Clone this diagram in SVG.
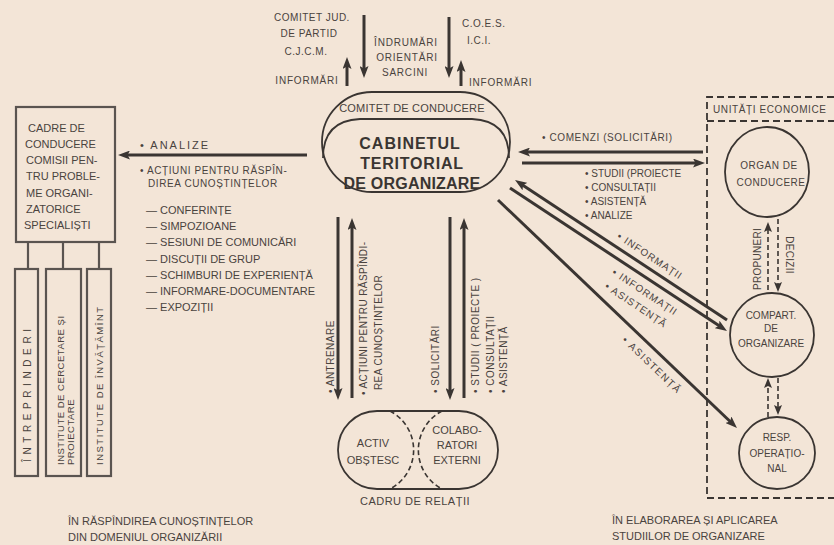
<svg xmlns="http://www.w3.org/2000/svg" width="834" height="545" viewBox="0 0 834 545">
<defs>
<marker id="ah" viewBox="0 0 12 9" refX="4" refY="4.5" markerWidth="12" markerHeight="9" markerUnits="userSpaceOnUse" orient="auto">
<path d="M0,0 L12,4.5 L0,9 L2.5,4.5 z" fill="#3a3532"/>
</marker>
<marker id="ah2" viewBox="0 0 10 8" refX="3" refY="4" markerWidth="10" markerHeight="8" markerUnits="userSpaceOnUse" orient="auto">
<path d="M0,0 L10,4 L0,8 L2,4 z" fill="#3a3532"/>
</marker>
</defs>
<style>
.t{font-family:"Liberation Sans",Arial,sans-serif;fill:#4a433e;font-size:11px}
.s{font-size:10px}
.m{text-anchor:middle}
.b{font-weight:bold;font-size:16px;fill:#3a3532}
.ln{stroke:#3a3532;stroke-width:3;fill:none}
.ol{stroke:#3a3532;stroke-width:1.8;fill:none}
.bx{stroke:#5a5450;stroke-width:2.2;fill:none}
.da{stroke:#3a3532;stroke-width:1.8;fill:none;stroke-dasharray:7 4}
.da2{stroke:#3a3532;stroke-width:1.6;fill:none;stroke-dasharray:5 3}
</style>
<rect width="834" height="545" fill="#f3e5d7"/>

<g id="top-labels">
<text class="t s m" x="312" y="21" letter-spacing="0.5">COMITET JUD.</text>
<text class="t s m" x="309" y="37" letter-spacing="0.5">DE PARTID</text>
<text class="t s m" x="306" y="55" letter-spacing="0.5">C.J.C.M.</text>
<text class="t s m" x="307" y="84" letter-spacing="0.8">INFORMĂRI</text>
<text class="t s m" x="406" y="46" letter-spacing="0.8">ÎNDRUMĂRI</text>
<text class="t s m" x="407" y="61" letter-spacing="0.8">ORIENTĂRI</text>
<text class="t s m" x="405" y="76" letter-spacing="0.8">SARCINI</text>
<text class="t s" x="462" y="27" letter-spacing="0.5">C.O.E.S.</text>
<text class="t s" x="467" y="44" letter-spacing="0.5">I.C.I.</text>
<text class="t s" x="469" y="86" letter-spacing="0.8">INFORMĂRI</text>
</g>

<g id="cabinet">
<rect x="322" y="92" width="188" height="100" rx="50" ry="50" class="ol"/>
<path d="M323,158 C323,132 336,120 360,119 L472,119 C496,120 509,132 509,158" class="ol"/>
<text class="t m" x="412" y="112" letter-spacing="0.2">COMITET DE CONDUCERE</text>
<text class="t b m" x="410" y="149" letter-spacing="1">CABINETUL</text>
<text class="t b m" x="412" y="169" letter-spacing="0.8">TERITORIAL</text>
<text class="t b m" x="412" y="189" letter-spacing="0.2">DE ORGANIZARE</text>
</g>

<g id="cadre">
<rect x="16" y="107" width="99" height="135" class="bx"/>
<text class="t" x="28" y="132">CADRE DE</text>
<text class="t" x="25" y="148">CONDUCERE</text>
<text class="t" x="26" y="164">COMISII PEN-</text>
<text class="t" x="26" y="180">TRU PROBLE-</text>
<text class="t" x="26" y="197">ME ORGANI-</text>
<text class="t" x="26" y="213">ZATORICE</text>
<text class="t" x="24" y="229">SPECIALIȘTI</text>
<path d="M28,242 V269 M63,242 V269 M99,242 V269" class="bx"/>
</g>

<g id="intreprinderi">
<rect x="15" y="269" width="23" height="207" class="bx"/>
<text class="t s" transform="translate(31,462) rotate(-90)" letter-spacing="4.6">ÎNTREPRINDERI</text>
</g>
<g id="institute-cercetare">
<rect x="46" y="269" width="35" height="207" class="bx"/>
<text class="t" style="font-size:9.5px" transform="translate(63.5,465) rotate(-90)" letter-spacing="0.5">INSTITUTE DE CERCETARE ȘI</text>
<text class="t" style="font-size:9.5px" transform="translate(73.5,465) rotate(-90)" letter-spacing="0.5">PROIECTARE</text>
</g>
<g id="institute-invatamint">
<rect x="87" y="269" width="24" height="207" class="bx"/>
<text class="t" style="font-size:9.5px" transform="translate(102.5,465) rotate(-90)" letter-spacing="1.5">INSTITUTE DE ÎNVĂȚĂMÎNT</text>
</g>

<g id="left-labels">
<text class="t" x="140" y="149" letter-spacing="2">• ANALIZE</text>
<text class="t s" x="140" y="174" letter-spacing="0.6">• ACȚIUNI PENTRU RĂSPÎN-</text>
<text class="t s" x="148" y="187" letter-spacing="0.6">DIREA CUNOȘTINȚELOR</text>
<text class="t" x="146" y="214">— CONFERINȚE</text>
<text class="t" x="146" y="230">— SIMPOZIOANE</text>
<text class="t" x="146" y="246">— SESIUNI DE COMUNICĂRI</text>
<text class="t" x="146" y="263">— DISCUȚII DE GRUP</text>
<text class="t" x="146" y="279">— SCHIMBURI DE EXPERIENȚĂ</text>
<text class="t" x="146" y="295">— INFORMARE-DOCUMENTARE</text>
<text class="t" x="146" y="311">— EXPOZIȚII</text>
</g>

<g id="unitati">
<path d="M834,97 H707 V498 H834" class="da"/>
<path d="M707,121 H834" class="da"/>
<text class="t s" x="713" y="113" letter-spacing="0.6">UNITĂȚI ECONOMICE</text>
</g>
<g id="organ">
<ellipse cx="767" cy="172" rx="42" ry="45" class="ol"/>
<text class="t s m" x="769" y="169" letter-spacing="0.5">ORGAN DE</text>
<text class="t s m" x="771" y="186" letter-spacing="0.5">CONDUCERE</text>
</g>
<g id="compart">
<circle cx="772" cy="335" r="42" class="ol"/>
<text class="t s m" x="771" y="319">COMPART.</text>
<text class="t s m" x="771" y="332">DE</text>
<text class="t s m" x="771" y="347">ORGANIZARE</text>
</g>
<g id="resp">
<ellipse cx="777" cy="453" rx="38" ry="36" class="ol"/>
<text class="t s m" x="777" y="441">RESP.</text>
<text class="t s m" x="777" y="457">OPERAȚIO-</text>
<text class="t s m" x="777" y="472">NAL</text>
</g>

<g id="cadru-relatii">
<rect x="338" y="411" width="160" height="78" rx="39" ry="39" class="ol"/>
<path d="M390,411 A44 44 0 0 1 390,489" class="da2"/>
<path d="M442,411 A44 44 0 0 0 442,489" class="da2"/>
<text class="t m" x="373" y="447">ACTIV</text>
<text class="t m" x="373" y="464">OBȘTESC</text>
<text class="t m" x="457" y="434">COLABO-</text>
<text class="t m" x="457" y="449">RATORI</text>
<text class="t m" x="457" y="464">EXTERNI</text>
<text class="t m" x="415" y="505" letter-spacing="0.5">CADRU DE RELAȚII</text>
</g>

<g id="connectors">
<path d="M347,86 V65" class="ln" marker-end="url(#ah)"/>
<path d="M364,15 V70" class="ln" marker-end="url(#ah)"/>
<path d="M449,17 V70" class="ln" marker-end="url(#ah)"/>
<path d="M461,86 V68" class="ln" marker-end="url(#ah)"/>
<path d="M307,155 H126" class="ln" marker-end="url(#ah)"/>
<path d="M703,152 H526" class="ln" marker-end="url(#ah)"/>
<path d="M522,163 H697" class="ln" marker-end="url(#ah)"/>
<path d="M727,320 L521.7,184.4" class="ln" marker-end="url(#ah)"/>
<path d="M510,188 L720.3,326.6" class="ln" marker-end="url(#ah)"/>
<path d="M498,200 L731.2,422.5" class="ln" marker-end="url(#ah)"/>
<path d="M338,217 V392" class="ln" marker-end="url(#ah)"/>
<path d="M352,398 V226" class="ln" marker-end="url(#ah)"/>
<path d="M450,217 V392" class="ln" marker-end="url(#ah)"/>
<path d="M464,398 V226" class="ln" marker-end="url(#ah)"/>
<path d="M768,290 V229" class="da2" marker-end="url(#ah2)"/>
<path d="M778,219 V285" class="da2" marker-end="url(#ah2)"/>
<path d="M768,417 V385" class="da2" marker-end="url(#ah2)"/>
<path d="M778,378 V408" class="da2" marker-end="url(#ah2)"/>
</g>

<g id="connector-labels">
<text class="t s" x="542" y="141" letter-spacing="0.6">• COMENZI (SOLICITĂRI)</text>
<text class="t s" x="585" y="177">• STUDII (PROIECTE</text>
<text class="t s" x="585" y="191">• CONSULTAȚII</text>
<text class="t s" x="585" y="205">• ASISTENȚĂ</text>
<text class="t s" x="585" y="219">• ANALIZE</text>
<text class="t s m" transform="translate(650,256) rotate(33.5)" y="3.5" letter-spacing="1">• INFORMAȚII</text>
<text class="t s m" transform="translate(645,292) rotate(33.5)" y="3.5" letter-spacing="1">• INFORMAȚII</text>
<text class="t s m" transform="translate(636,305) rotate(33.5)" y="3.5" letter-spacing="1">• ASISTENȚĂ</text>
<text class="t s m" transform="translate(652,365) rotate(43.6)" y="3.5" letter-spacing="1.5">• ASISTENȚĂ</text>
<text class="t s" transform="translate(769,290) rotate(-90)" x="0" y="-8" letter-spacing="0.3">PROPUNERI</text>
<text class="t s m" transform="translate(786,255) rotate(90)" letter-spacing="0.3">DECIZII</text>
<text class="t s" transform="translate(333.5,393) rotate(-90)" letter-spacing="0.5">• ANTRENARE</text>
<text class="t s" transform="translate(367,395) rotate(-90)" letter-spacing="0.4">• ACȚIUNI PENTRU RĂSPÎNDI-</text>
<text class="t s" transform="translate(382,390) rotate(-90)" letter-spacing="0.4">REA CUNOȘTINȚELOR</text>
<text class="t s" transform="translate(439,393) rotate(-90)" letter-spacing="0.5">• SOLICITĂRI</text>
<text class="t s" transform="translate(479,393) rotate(-90)" letter-spacing="0.5">• STUDII ( PROIECTE )</text>
<text class="t s" transform="translate(494,393) rotate(-90)" letter-spacing="0.5">• CONSULTAȚII</text>
<text class="t s" transform="translate(507,393) rotate(-90)" letter-spacing="0.5">• ASISTENȚĂ</text>
</g>

<g id="captions">
<text class="t" x="68" y="525">ÎN RĂSPÎNDIREA CUNOȘTINȚELOR</text>
<text class="t" x="68" y="541">DIN DOMENIUL ORGANIZĂRII</text>
<text class="t" x="612" y="524">ÎN ELABORAREA ȘI APLICAREA</text>
<text class="t" x="612" y="540">STUDIILOR DE ORGANIZARE</text>
</g>
</svg>
